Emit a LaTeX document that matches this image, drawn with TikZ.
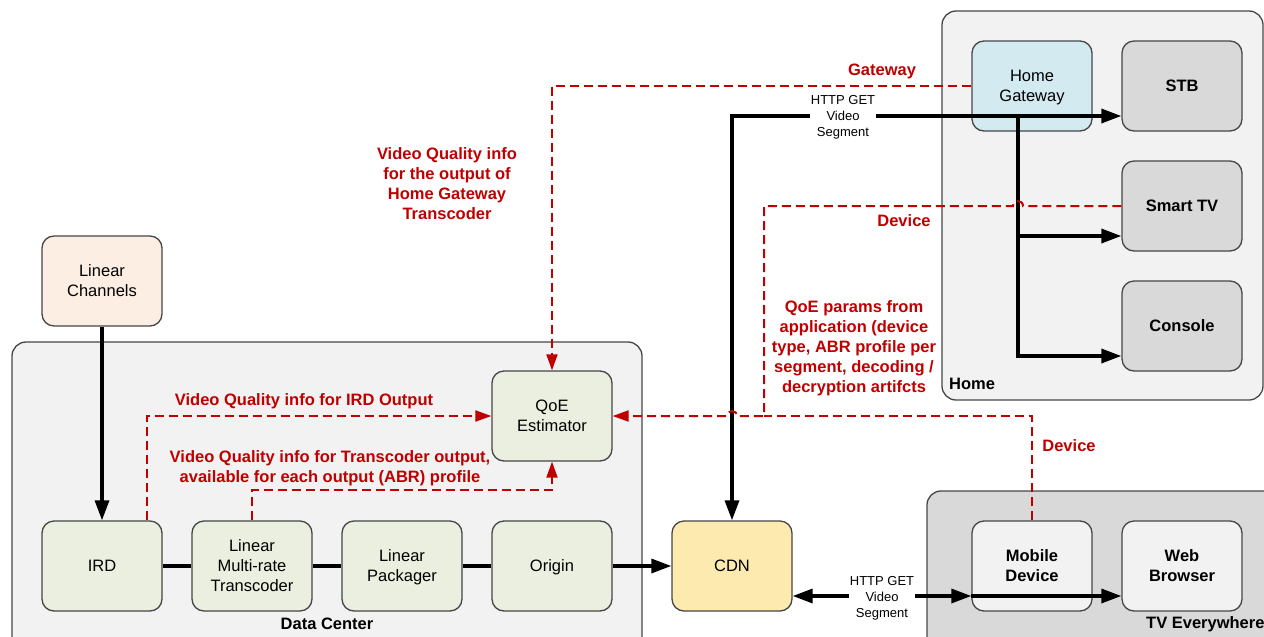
\documentclass[tikz,border=0pt]{standalone}
\usepackage{fontspec}
\setmainfont{Liberation Sans}
\usetikzlibrary{arrows.meta,calc}
\definecolor{qred}{RGB}{192,0,0}
\definecolor{boxline}{RGB}{70,70,70}
\definecolor{contfill}{RGB}{242,242,242}
\definecolor{tvfill}{RGB}{217,217,217}
\definecolor{peach}{RGB}{252,238,227}
\definecolor{olivefill}{RGB}{235,239,224}
\definecolor{cdnfill}{RGB}{253,234,175}
\definecolor{hgfill}{RGB}{211,234,240}
\definecolor{devgray}{RGB}{217,217,217}
\definecolor{mobfill}{RGB}{242,242,242}
\newcommand\fmain{\fontsize{16.5}{20}\selectfont}
\newcommand\fsmall{\fontsize{13}{16}\selectfont}
\begin{document}
\begin{tikzpicture}[x=1pt,y=-1pt,
  box/.style={draw=boxline, line width=1.3pt, rounded corners=12pt, minimum width=120pt, minimum height=90pt, align=center, inner sep=2pt, text depth=0pt, font=\fmain},
  cont/.style={draw=boxline, line width=1.3pt, rounded corners=14pt},
  conn/.style={line width=3.3pt, black},
  arr/.style={conn, -{Triangle[length=20pt,width=14pt]}},
  arr2/.style={conn, {Triangle[length=20pt,width=14pt]}-{Triangle[length=20pt,width=14pt]}},
  rdash/.style={draw=qred, line width=2pt, dash pattern=on 9pt off 5pt},
  rarr/.style={rdash, -{Triangle[length=16pt,width=11pt]}, qred},
  rlab/.style={text=qred, font=\fmain\bfseries, align=center, inner sep=1pt},
  clab/.style={font=\fmain\bfseries, inner sep=1pt},
  hlab/.style={font=\fsmall, align=center, fill=white, inner sep=1pt}
]
\useasboundingbox (0,0) rectangle (1264,637);
% containers
\draw[cont, fill=contfill] (12,342) rectangle (642,660);
\draw[cont, fill=contfill] (942,11) rectangle (1263,400);
\draw[cont, fill=tvfill] (927,491) rectangle (1290,660);
\node[clab] (ldc) at (327,624) {Data Center};
\node[clab, anchor=west] (lhome) at (948,384) {Home};
\node[clab, anchor=west] (ltv) at (1145,624) {TV Everywhere};
% nodes
\node[box, fill=peach] (lc) at (102,281) {Linear\\Channels};
\node[box, fill=olivefill] (qoe) at (552,416) {QoE\\Estimator};
\node[box, fill=olivefill] (ird) at (102,566) {IRD};
\node[box, fill=olivefill] (tr) at (252,566) {Linear\\Multi-rate\\Transcoder};
\node[box, fill=olivefill] (pk) at (402,566) {Linear\\Packager};
\node[box, fill=olivefill] (orig) at (552,566) {Origin};
\node[box, fill=cdnfill] (cdn) at (732,566) {CDN};
\node[box, fill=hgfill] (hg) at (1032,86) {Home\\Gateway};
\node[box, fill=devgray, font=\fmain\bfseries] (stb) at (1182,86) {STB};
\node[box, fill=devgray, font=\fmain\bfseries] (stv) at (1182,206) {Smart TV};
\node[box, fill=devgray, font=\fmain\bfseries] (con) at (1182,326) {Console};
\node[box, fill=mobfill, font=\fmain\bfseries] (mob) at (1032,566) {Mobile\\Device};
\node[box, fill=mobfill, font=\fmain\bfseries] (wb) at (1182,566) {Web\\Browser};
% coordinates
\coordinate (stbin) at ($(stb.west)+(0,30)$);
\coordinate (stvin) at ($(stv.west)+(0,30)$);
\coordinate (conin) at ($(con.west)+(0,30)$);
\coordinate (split) at (1018,116);
\coordinate (cdnout) at ($(cdn.east)+(0,30)$);
\coordinate (mobin) at ($(mob.west)+(0,30)$);
\coordinate (wbin) at ($(wb.west)+(0,30)$);
\coordinate (irdtop) at ($(ird.north)+(45,0)$);
% black connectors
\draw[arr] (lc) -- (ird);
\draw[conn] (ird) -- (tr);
\draw[conn] (tr) -- (pk);
\draw[conn] (pk) -- (orig);
\draw[arr] (orig) -- (cdn);
\draw[arr2] (cdn.north) |- (stbin);
\draw[arr] (split) |- (stvin);
\draw[arr] (split) |- (conin);
\draw[arr2] (cdnout) -- (mobin);
\draw[arr] (mobin) -- (wbin);
% red dashed
\draw[rarr] (hg.west) -| (qoe.north);
\draw[rarr] (stv.west) -- (1023,206) .. controls (1023,199.5) and (1013,199.5) .. (1013,206) -- (764,206) -- (764,416) -- (737,416) .. controls (737,409.5) and (727,409.5) .. (727,416) -- (qoe.east);
\draw[rdash] (mob.north) |- (764,416);
\draw[rarr] (irdtop) |- (qoe.west);
\draw[rarr] (tr.north) -- ++(0,-30) -| (qoe.south);
% labels
\node[hlab] (h1) at (843,117) {HTTP GET\\Video\\Segment};
\node[hlab] (h2) at (882,598) {HTTP GET\\Video\\Segment};
\node[rlab] (lgw) at (882,71) {Gateway};
\node[rlab] (lhgt) at (447,184) {Video Quality info\\for the output of\\Home Gateway\\Transcoder};
\node[rlab] (ldev1) at (904,221) {Device};
\node[rlab] (lqp) at (854,348) {QoE params from\\application (device\\type, ABR profile per\\segment, decoding /\\decryption artifcts};
\node[rlab] (ldev2) at (1069,446) {Device};
\node[rlab] (lird) at (304,401) {Video Quality info for IRD Output};
\node[rlab] (ltr) at (330,468) {Video Quality info for Transcoder output,\\available for each output (ABR) profile};
\end{tikzpicture}
\end{document}
